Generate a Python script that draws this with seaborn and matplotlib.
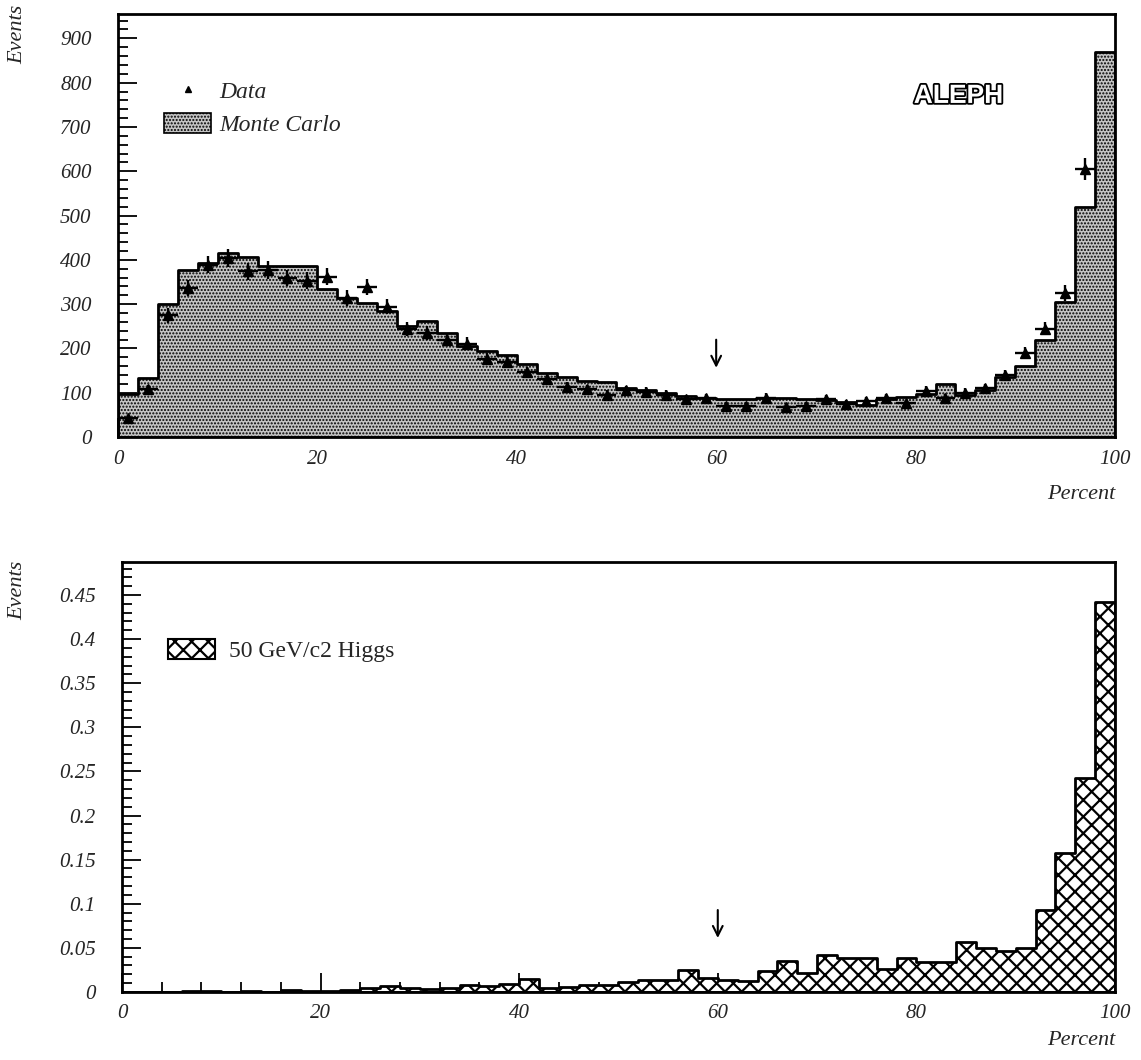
import numpy as np
import pandas as pd
import matplotlib
matplotlib.use("Agg")
import matplotlib.pyplot as plt
import matplotlib.patheffects as pe
from matplotlib.lines import Line2D
from matplotlib.patches import Patch
from matplotlib.ticker import MultipleLocator, FuncFormatter
import seaborn as sns

# ---- data: 2 % wide bins from 0 to 100 ----
bin_width = 2
bin_centers = np.arange(1, 100, 2)

mc_counts = [97, 134, 300, 377, 392, 415, 407, 385, 386, 386,
             335, 314, 303, 284, 250, 262, 235, 205, 195, 185,
             165, 145, 135, 127, 124, 110, 106, 100, 92, 88,
             86, 85, 87, 87, 85, 83, 78, 72, 85, 90,
             98, 120, 96, 106, 136, 160, 220, 305, 520, 870]

data_x = [1, 3, 5, 7, 9, 11, 13, 15, 17, 19,
          21, 23, 25, 27, 29, 31, 33, 35, 37, 39,
          41, 43, 45, 47, 49, 51, 53, 55, 57, 59,
          61, 63, 65, 67, 69, 71, 73, 75, 77, 79,
          81, 83, 85, 87, 89, 91, 93, 95, 97]
data_counts = [43, 108, 275, 336, 389, 404, 374, 377, 359, 353,
               362, 314, 338, 294, 244, 235, 220, 211, 177, 170,
               146, 131, 114, 108, 96, 106, 102, 96, 85, 87,
               70, 71, 89, 68, 70, 85, 74, 82, 88, 76,
               104, 88, 100, 110, 140, 190, 245, 325, 605]

higgs_events = [0.0, 0.0, 0.0005, 0.001, 0.001, 0.0, 0.001, 0.0005, 0.002, 0.001,
                0.001, 0.002, 0.004, 0.007, 0.004, 0.003, 0.004, 0.008, 0.007, 0.009,
                0.015, 0.005, 0.006, 0.008, 0.008, 0.011, 0.013, 0.014, 0.025, 0.016,
                0.014, 0.012, 0.024, 0.035, 0.021, 0.042, 0.039, 0.039, 0.026, 0.038,
                0.034, 0.034, 0.057, 0.050, 0.046, 0.050, 0.093, 0.158, 0.242, 0.442]

cut_value = 60

mc_df = pd.DataFrame({"percent": bin_centers, "events": mc_counts})
higgs_df = pd.DataFrame({"percent": bin_centers, "events": higgs_events})
data_df = pd.DataFrame({"percent": data_x, "events": data_counts})

# ---- style ----
sns.set_style("ticks")
plt.rcParams["font.family"] = ["Liberation Serif", "DejaVu Serif"]
plt.rcParams["hatch.color"] = "black"
plt.rcParams["axes.linewidth"] = 2.0

fig = plt.figure(figsize=(11.41, 10.60), dpi=100)
ax_top = fig.add_axes([0.1034, 0.5877, 0.8738, 0.3991])
ax_bot = fig.add_axes([0.1069, 0.0642, 0.8703, 0.4057])

stipple_face = "#c4c4c4"


def style_axes(ax, ymax, ymajor, yminor, fmt):
    ax.set_xlim(0, 100)
    ax.set_ylim(0, ymax)
    ax.xaxis.set_major_locator(MultipleLocator(20))
    ax.xaxis.set_minor_locator(MultipleLocator(4))
    ax.yaxis.set_major_locator(MultipleLocator(ymajor))
    ax.yaxis.set_minor_locator(MultipleLocator(yminor))
    ax.yaxis.set_major_formatter(FuncFormatter(fmt))
    ax.tick_params(which="both", direction="in", top=False, right=False,
                   color="black", width=1.3)
    ax.tick_params(which="major", length=14)
    ax.tick_params(which="minor", length=7)
    ax.tick_params(axis="y", which="major", pad=19)
    ax.tick_params(axis="x", which="major", pad=9)
    for lab in ax.get_xticklabels() + ax.get_yticklabels():
        lab.set_fontfamily(["Liberation Serif"])
        lab.set_fontsize(15)
        lab.set_fontstyle("italic")
    for sp in ax.spines.values():
        sp.set_visible(True)
        sp.set_linewidth(2.0)
        sp.set_color("black")
    ax.set_xlabel("")
    ax.set_ylabel("")


# ---- top panel: Monte Carlo histogram and data ----
plt.rcParams["hatch.linewidth"] = 1.0
sns.histplot(data=mc_df, x="percent", weights="events", binwidth=bin_width,
             binrange=(0, 100), element="step", fill=True, color=stipple_face,
             alpha=1.0, edgecolor="black", linewidth=2.0, ax=ax_top)
for coll in ax_top.collections:
    coll.set_hatch(".....")
    coll.set_facecolor(stipple_face)
    coll.set_edgecolor("black")

ax_top.errorbar(data_df["percent"], data_df["events"], xerr=1.0,
                yerr=np.sqrt(data_df["events"]), fmt="^", color="black",
                markersize=7, elinewidth=1.7, capsize=0, zorder=5)

style_axes(ax_top, 955, 100, 20, lambda v, p: f"{v:g}")

ax_top.annotate("", xy=(cut_value, 150), xytext=(cut_value, 226),
                arrowprops=dict(arrowstyle="->,head_length=0.7,head_width=0.35",
                                lw=1.5, color="black"))

ax_top.text(84.3, 770, "ALEPH", ha="center", va="center", fontsize=19,
            fontweight="bold", family=["Liberation Sans"], color="white",
            path_effects=[pe.Stroke(linewidth=2.6, foreground="black"), pe.Normal()])

top_handles = [Line2D([], [], marker="^", ls="none", color="black", markersize=5),
               Patch(facecolor=stipple_face, edgecolor="black", hatch=".....", linewidth=1.2)]
ax_top.legend(top_handles, ["Data", "Monte Carlo"], loc="upper left",
              bbox_to_anchor=(0.025, 0.895), frameon=False, handlelength=2.0,
              handleheight=0.9, handletextpad=0.35, labelspacing=0.45,
              prop=dict(family=["Liberation Serif"], style="italic", size=17))

ax_top.text(1.0, -0.137, "Percent", transform=ax_top.transAxes, ha="right",
            va="center", fontsize=16, style="italic")

# ---- bottom panel: Higgs signal ----
plt.rcParams["hatch.linewidth"] = 1.6
sns.histplot(data=higgs_df, x="percent", weights="events", binwidth=bin_width,
             binrange=(0, 100), element="step", fill=True, color="white",
             alpha=1.0, edgecolor="black", linewidth=2.0, ax=ax_bot)
for coll in ax_bot.collections:
    coll.set_hatch("xx")
    coll.set_facecolor("white")
    coll.set_edgecolor("black")

style_axes(ax_bot, 0.4875, 0.05, 0.01, lambda v, p: "0" if abs(v) < 1e-9 else f"{v:g}")

ax_bot.annotate("", xy=(cut_value, 0.058), xytext=(cut_value, 0.096),
                arrowprops=dict(arrowstyle="->,head_length=0.7,head_width=0.35",
                                lw=1.5, color="black"))

bot_handles = [Patch(facecolor="white", edgecolor="black", hatch="xx", linewidth=1.5)]
ax_bot.legend(bot_handles, ["50 GeV/c2 Higgs"], loc="upper left",
              bbox_to_anchor=(0.025, 0.87), frameon=False, handlelength=2.0,
              handleheight=0.9, handletextpad=0.6,
              prop=dict(family=["Liberation Serif"], size=17))

ax_bot.text(1.0, -0.112, "Percent", transform=ax_bot.transAxes, ha="right",
            va="center", fontsize=16, style="italic")

fig.text(0.0158, 0.968, "Events", rotation=90, ha="center", va="center",
         fontsize=16, style="italic")
fig.text(0.0158, 0.443, "Events", rotation=90, ha="center", va="center",
         fontsize=16, style="italic")

fig.savefig("out.png", dpi=100)
